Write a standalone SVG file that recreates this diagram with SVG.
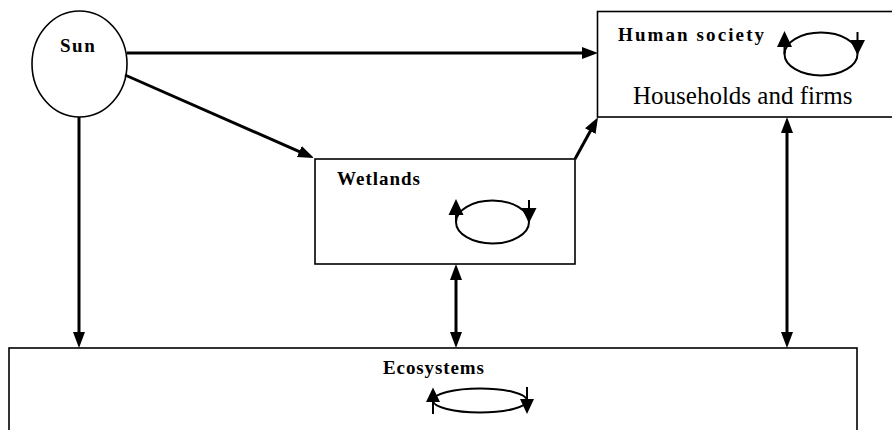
<svg xmlns="http://www.w3.org/2000/svg" width="892" height="430" viewBox="0 0 892 430">
<style>
.box{fill:#fff;stroke:#000;stroke-width:1.6}
.lbl{font-family:"Liberation Serif","Times New Roman",serif;font-weight:bold;font-size:19px;fill:#000}
.big{font-family:"Liberation Serif","Times New Roman",serif;font-size:25px;fill:#000}
.conn{fill:none;stroke:#000;stroke-width:3}
.cyc{fill:none;stroke:#000;stroke-width:2}
.tri{fill:#000}
</style>
<defs>
<marker id="ah" markerUnits="userSpaceOnUse" markerWidth="16" markerHeight="12" refX="5" refY="6" orient="auto-start-reverse" viewBox="0 0 16 12">
<path d="M0,0 L16,6 L0,12 z" fill="#000"/>
</marker>
<g id="cycle">
<ellipse class="cyc" cx="0" cy="0" rx="36.5" ry="21.5"/>
<path class="cyc" d="M-36.5,0 L-36.5,-10 M36.5,-22 L36.5,-12"/>
<path class="tri" d="M-36.5,-23 L-44,-7 L-29,-7 z M29,-14 L44,-14 L36.5,1 z"/>
</g>
</defs>
<g id="ecosystems">
<rect class="box" x="9" y="348" width="848" height="100"/>
<text class="lbl" x="383" y="374" letter-spacing="0.9">Ecosystems</text>
<ellipse class="cyc" cx="480" cy="400.5" rx="47" ry="12"/>
<path class="cyc" d="M433,400 L433,414 M527,387 L527,400"/>
<path class="tri" d="M433,387.5 L426,402 L440,402 z M520,399 L534,399 L527,414 z"/>
</g>
<g id="sun">
<ellipse class="box" cx="79.5" cy="64" rx="47.5" ry="53"/>
<text class="lbl" x="60" y="52" letter-spacing="1.5">Sun</text>
</g>
<g id="human-society">
<rect class="box" x="597.5" y="11.5" width="300" height="105.5"/>
<text class="lbl" x="618" y="41" letter-spacing="2.1">Human society</text>
<text class="big" x="633" y="104">Households and firms</text>
<use href="#cycle" x="821" y="54"/>
</g>
<g id="wetlands">
<rect class="box" x="315" y="159" width="260" height="105"/>
<text class="lbl" x="337" y="185" letter-spacing="1">Wetlands</text>
<use href="#cycle" x="492.5" y="222"/>
</g>
<g id="connectors">
<path class="conn" d="M127,53 L587,53" marker-end="url(#ah)"/>
<path class="conn" d="M125,75 L303.9,153.6" marker-end="url(#ah)"/>
<path class="conn" d="M575,159 L592.7,126.8" marker-end="url(#ah)"/>
<path class="conn" d="M79,117 L79,337" marker-end="url(#ah)"/>
<path class="conn" d="M456,275 L456,337" marker-start="url(#ah)" marker-end="url(#ah)"/>
<path class="conn" d="M787,128 L787,337" marker-start="url(#ah)" marker-end="url(#ah)"/>
</g>
</svg>
